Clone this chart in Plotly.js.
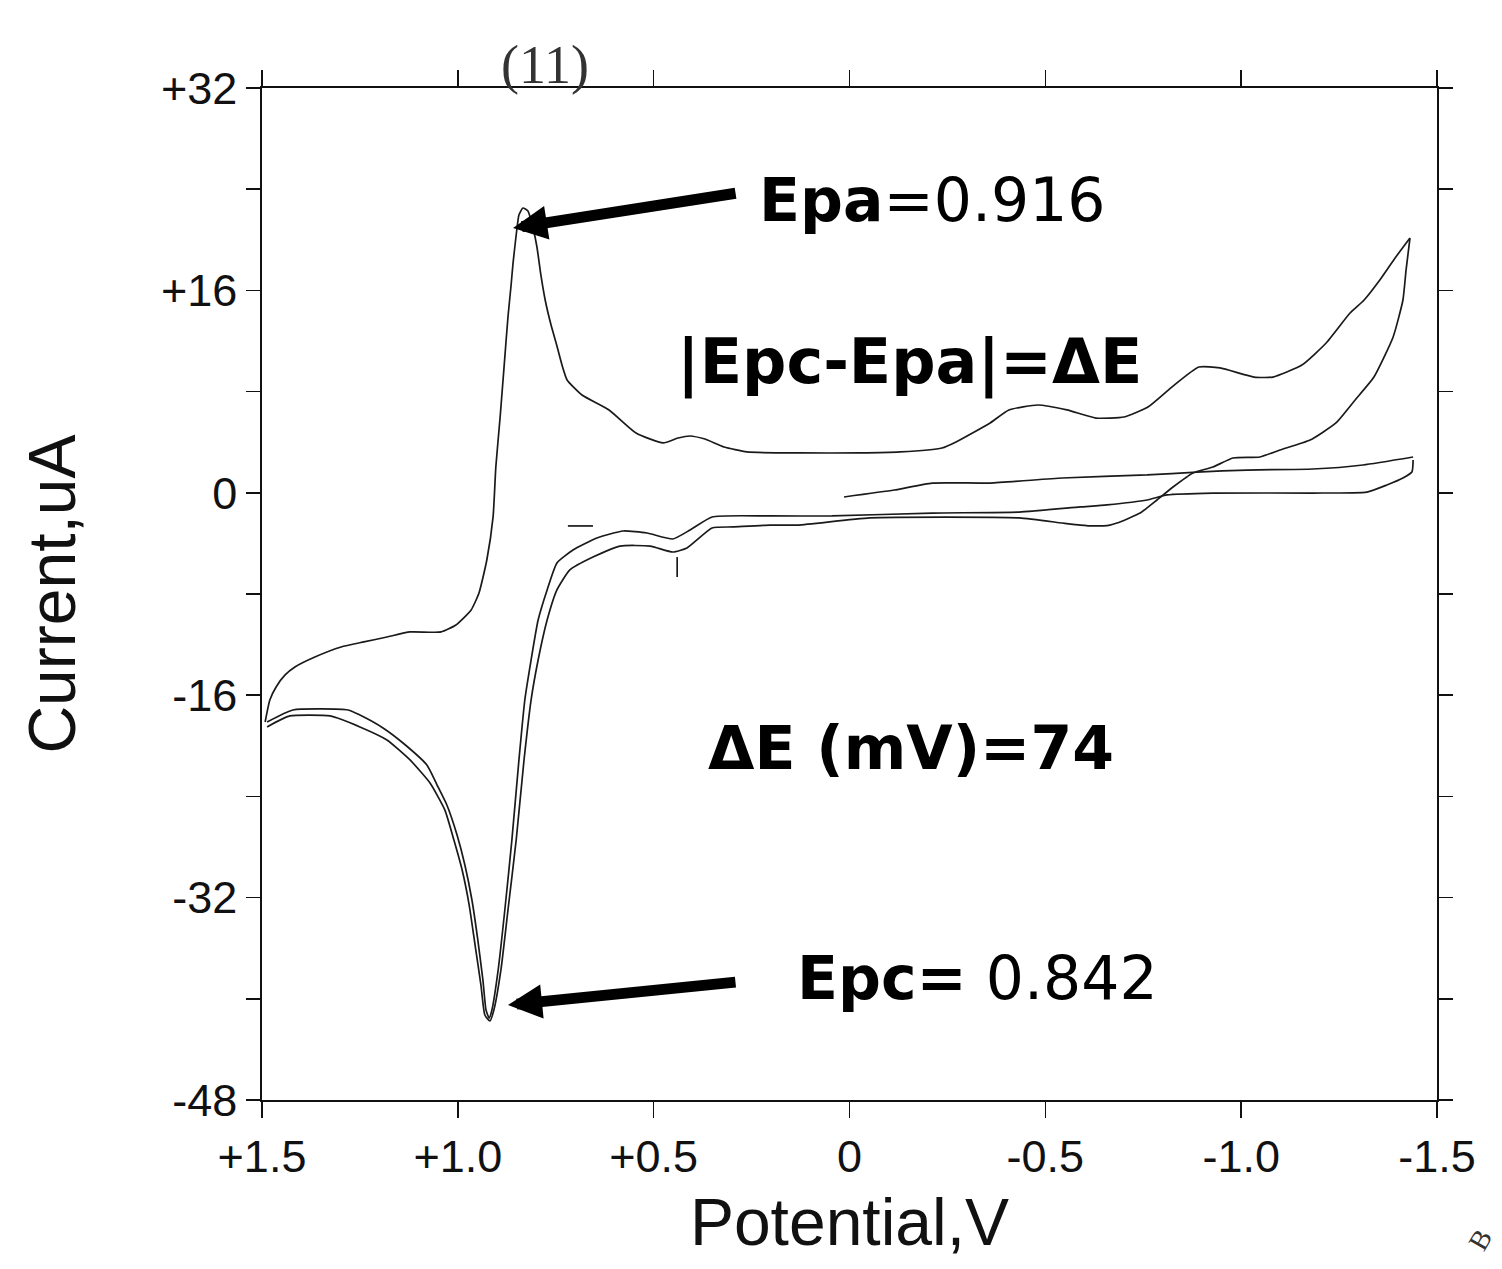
<!DOCTYPE html>
<html>
<head>
<meta charset="utf-8">
<script src="https://cdn.plot.ly/plotly-3.0.1.min.js"></script>
<style>
  html, body { margin: 0; padding: 0; background: #ffffff; }
  #chart { width: 1502px; height: 1269px; }
</style>
</head>
<body>
<div id="chart"></div>
<script>
// ---- Data (Potential in V, Current in uA) ----
// Anodic sweep (+1.5 V -> -1.43 V), upper curve with the Epa peak
const anodicV = [1.492,1.480,1.464,1.441,1.416,1.365,1.298,1.240,1.181,1.122,1.043,1.005,0.966,0.946,0.926,0.910,0.903,0.892,0.882,0.872,0.864,0.859,0.851,0.844,0.834,0.821,0.808,0.798,0.788,0.777,0.762,0.749,0.734,0.721,0.683,0.614,0.545,0.476,0.438,0.407,0.369,0.320,0.262,0.126,-0.027,-0.129,-0.236,-0.272,-0.359,-0.407,-0.481,-0.555,-0.629,-0.701,-0.762,-0.823,-0.892,-0.946,-1.033,-1.081,-1.155,-1.217,-1.278,-1.314,-1.354,-1.393,-1.431];
const anodicI = [-18.12,-16.38,-15.35,-14.40,-13.77,-12.98,-12.19,-11.79,-11.40,-11.00,-11.00,-10.45,-9.26,-7.92,-5.31,-1.91,2.04,5.99,9.94,13.90,16.43,18.17,20.38,21.96,22.51,22.28,20.93,19.43,17.22,15.24,13.26,11.84,10.10,8.92,7.73,6.55,4.73,3.94,4.33,4.49,4.25,3.62,3.23,3.15,3.15,3.23,3.54,4.02,5.52,6.55,6.94,6.55,5.91,5.99,6.78,8.36,9.94,9.87,9.15,9.15,10.10,11.84,14.21,15.24,16.82,18.56,20.14];

// Return sweep 2 (from -1.43 V back to +1.5 V, outer/lower line of the pair)
const return2V = [-1.431,-1.421,-1.413,-1.388,-1.339,-1.291,-1.242,-1.176,-1.099,-1.048,-0.979,-0.928,-0.877,-0.826,-0.785,-0.742,-0.683,-0.665,-0.622,-0.589,-0.543,-0.433,-0.052,0.131,0.203,0.297,0.351,0.415,0.451,0.509,0.586,0.655,0.714,0.747,0.772,0.795,0.813,0.831,0.851,0.872,0.890,0.908,0.918,0.931,0.941,0.956,0.971,0.989,1.010,1.033,1.071,1.122,1.181,1.250,1.326,1.429,1.487];
const return2I = [20.14,17.61,15.24,12.32,9.15,7.34,5.52,4.17,3.38,2.83,2.75,2.04,1.57,0.46,-0.57,-1.60,-2.39,-2.55,-2.62,-2.55,-2.39,-1.99,-1.99,-2.55,-2.55,-2.70,-2.78,-4.36,-4.68,-4.21,-4.21,-5.08,-6.10,-7.68,-10.06,-13.22,-16.38,-21.12,-27.45,-32.98,-37.72,-40.89,-41.75,-41.28,-38.91,-35.75,-32.59,-29.82,-27.45,-25.08,-22.94,-21.12,-19.54,-18.51,-17.64,-17.64,-18.51];

// Return sweep 1 (from -1.44 V back to +1.5 V, inner/upper line of the pair, Epc peak)
const return1V = [-1.439,-1.436,-1.413,-1.372,-1.321,-1.183,-0.928,-0.811,-0.760,-0.657,-0.589,-0.433,-0.211,0.045,0.203,0.351,0.407,0.451,0.517,0.578,0.645,0.706,0.747,0.772,0.795,0.813,0.829,0.844,0.862,0.880,0.897,0.913,0.920,0.928,0.936,0.949,0.964,0.982,1.002,1.028,1.053,1.079,1.140,1.191,1.250,1.280,1.421,1.487];
const return1I = [2.59,1.64,1.17,0.62,0.06,-0.02,-0.02,-0.17,-0.57,-0.96,-1.12,-1.52,-1.60,-1.83,-1.83,-1.91,-2.94,-3.65,-3.18,-3.02,-3.57,-4.52,-5.55,-7.68,-10.06,-13.22,-16.38,-21.12,-27.45,-32.98,-37.72,-40.89,-41.52,-40.89,-38.51,-35.35,-32.19,-29.42,-27.05,-24.68,-23.10,-21.52,-19.78,-18.59,-17.57,-17.17,-17.17,-18.12];

// Initial sweep (0 V -> -1.44 V)
const initialV = [0.014,-0.114,-0.211,-0.359,-0.543,-0.760,-0.887,-1.015,-1.183,-1.311,-1.439];
const initialI = [-0.33,0.22,0.77,0.77,1.17,1.41,1.64,1.80,1.88,2.20,2.83];

// Small stray pen marks
const dashV = [0.719,0.655];
const dashI = [-2.62,-2.62];
const tickMarkV = [0.440,0.440];
const tickMarkI = [-5.08,-6.66];

// Axis ticks
const xTickVals = [1.5,1.0,0.5,0,-0.5,-1.0,-1.5];
const xTickText = ['+1.5','+1.0','+0.5','0','-0.5','-1.0','-1.5'];
const yTickVals = [32,24,16,8,0,-8,-16,-24,-32,-40,-48];
const yTickText = ['+32','','+16','','0','','-16','','-32','','-48'];

// ---- Traces ----
function trace(x, y, name, smooth) {
  return {x: x, y: y, type: 'scatter', mode: 'lines', name: name,
          line: {color: '#1a1a1a', width: 1.7, shape: smooth ? 'spline' : 'linear', smoothing: 0.5},
          hoverinfo: 'skip', showlegend: false};
}
const data = [
  trace(anodicV, anodicI, 'anodic', true),
  trace(return2V, return2I, 'return 2', true),
  trace(return1V, return1I, 'return 1', true),
  trace(initialV, initialI, 'initial', true),
  trace(dashV, dashI, 'mark 1', false),
  trace(tickMarkV, tickMarkI, 'mark 2', false)
];

const labelFont = {family: 'DejaVu Sans, sans-serif', size: 60, color: '#000'};
const arrowCommon = {showarrow: true, text: '', arrowhead: 2, arrowsize: 0.62,
  arrowwidth: 11, arrowcolor: '#000', standoff: 0, axref: 'pixel', ayref: 'pixel'};
const tickFont = {family: 'Liberation Sans, Arial, sans-serif', size: 45, color: '#111'};
const titleFont = {family: 'Liberation Sans, Arial, sans-serif', size: 66, color: '#111'};

const layout = {
  width: 1502, height: 1269,
  margin: {l: 262, r: 65, t: 88, b: 169, pad: 0},
  paper_bgcolor: '#ffffff', plot_bgcolor: '#ffffff',
  showlegend: false,
  font: {family: 'Liberation Sans, Arial, sans-serif', color: '#111'},
  xaxis: {
    range: [1.5, -1.5],
    tickmode: 'array', tickvals: xTickVals, ticktext: xTickText,
    ticks: 'outside', ticklen: 16, tickwidth: 1.5, tickcolor: '#111',
    showline: true, linecolor: '#111', linewidth: 1.6, mirror: 'ticks',
    showgrid: false, zeroline: false,
    tickfont: tickFont,
    title: {text: 'Potential,V', standoff: 18, font: titleFont}
  },
  yaxis: {
    range: [-48, 32],
    tickmode: 'array', tickvals: yTickVals, ticktext: yTickText,
    ticks: 'outside', ticklen: 14, tickwidth: 1.5, tickcolor: '#111',
    showline: true, linecolor: '#111', linewidth: 1.6, mirror: 'ticks',
    showgrid: false, zeroline: false,
    tickfont: tickFont,
    title: {text: 'Current,uA', standoff: 64, font: titleFont}
  },
  annotations: [
    Object.assign({x: 0.859, y: 20.93, xref: 'x', yref: 'y', ax: 224, ay: -35}, arrowCommon),
    Object.assign({x: 0.872, y: -40.49, xref: 'x', yref: 'y', ax: 229, ay: -23}, arrowCommon),
    {x: 0.236, y: 23.15, xref: 'x', yref: 'y', xanchor: 'left', yanchor: 'middle',
     showarrow: false, text: '<b>Epa</b>=0.916', font: labelFont},
    {x: 0.445, y: 10.34, xref: 'x', yref: 'y', xanchor: 'left', yanchor: 'middle',
     showarrow: false, text: '<b>|Epc-Epa|=ΔE</b>', font: {family: 'DejaVu Sans, sans-serif', size: 62, color: '#000'}},
    {x: 0.366, y: -20.17, xref: 'x', yref: 'y', xanchor: 'left', yanchor: 'middle',
     showarrow: false, text: '<b>ΔE (mV)=74</b>', font: labelFont},
    {x: 0.139, y: -38.36, xref: 'x', yref: 'y', xanchor: 'left', yanchor: 'middle',
     showarrow: false, text: '<b>Epc=</b> 0.842', font: labelFont},
    {x: 0.241, y: 1.023, xref: 'paper', yref: 'paper', xanchor: 'center', yanchor: 'middle',
     showarrow: false, text: '(11)',
     font: {family: 'Liberation Serif, serif', size: 54, color: '#333'}},
    {x: 1.037, y: -0.138, xref: 'paper', yref: 'paper', xanchor: 'center', yanchor: 'middle',
     showarrow: false, text: 'B', textangle: -60,
     font: {family: 'Liberation Serif, serif', size: 28, color: '#333'}}
  ]
};

Plotly.newPlot('chart', data, layout, {staticPlot: true, displayModeBar: false});
</script>
</body>
</html>
